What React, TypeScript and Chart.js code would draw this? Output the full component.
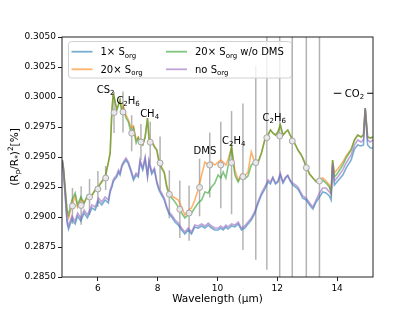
import { useEffect, useRef } from 'react';
import { Chart, registerables } from 'chart.js';

Chart.register(...registerables);

const FAMILY = '"DejaVu Sans", sans-serif';

const wavelength = [
  4.81, 4.85, 4.97, 5.02, 5.13, 5.24, 5.32, 5.43, 5.54, 5.65,
  5.80, 5.91, 6.02, 6.13, 6.24, 6.35, 6.41, 6.47, 6.51, 6.55,
  6.63, 6.69, 6.74, 6.80, 6.85, 6.94, 7.02, 7.11, 7.19, 7.28,
  7.35, 7.41, 7.50, 7.58, 7.66, 7.71, 7.80, 7.89, 7.97, 8.04,
  8.13, 8.22, 8.30, 8.38, 8.47, 8.58, 8.69, 8.80, 8.91, 9.02,
  9.13, 9.24, 9.35, 9.47, 9.58, 9.69, 9.80, 9.91, 10.02, 10.11,
  10.19, 10.28, 10.35, 10.47, 10.58, 10.69, 10.80, 10.91, 11.02, 11.13,
  11.24, 11.35, 11.47, 11.58, 11.69, 11.77, 11.85, 11.94, 12.02, 12.10,
  12.19, 12.28, 12.35, 12.43, 12.52, 12.61, 12.69, 12.78, 12.85, 12.97,
  13.08, 13.19, 13.30, 13.41, 13.52, 13.63, 13.74, 13.80, 13.85, 13.91,
  14.02, 14.19, 14.30, 14.47, 14.58, 14.69, 14.80, 14.88, 14.94, 15.02,
  15.11, 15.19,
];

// 1x S_org (blue)
const sorg1x = [
  0.29458, 0.29375, 0.2895, 0.289, 0.28983, 0.28942, 0.29008, 0.28967, 0.29033, 0.28992,
  0.29075, 0.29058, 0.29133, 0.291, 0.29142, 0.29117, 0.29208, 0.2925, 0.29292, 0.29308,
  0.29333, 0.29375, 0.2935, 0.29417, 0.29442, 0.29475, 0.29442, 0.29375, 0.29308, 0.2935,
  0.29333, 0.29458, 0.29392, 0.29483, 0.29333, 0.29458, 0.29358, 0.29392, 0.29283, 0.29225,
  0.29183, 0.29142, 0.29075, 0.29025, 0.29, 0.28958, 0.28933, 0.28892, 0.28858, 0.28892,
  0.28858, 0.28917, 0.28908, 0.28925, 0.28908, 0.28933, 0.28908, 0.28892, 0.28892, 0.28908,
  0.28892, 0.28917, 0.289, 0.28925, 0.28917, 0.28942, 0.28892, 0.28908, 0.28942, 0.28975,
  0.29025, 0.29108, 0.29183, 0.29233, 0.29292, 0.29275, 0.29325, 0.29275, 0.29292, 0.2935,
  0.29283, 0.29325, 0.29342, 0.293, 0.29267, 0.2925, 0.29233, 0.29192, 0.29158, 0.29142,
  0.291, 0.29067, 0.29125, 0.29167, 0.29208, 0.292, 0.29175, 0.29142, 0.29425, 0.29267,
  0.293, 0.2935, 0.29408, 0.29475, 0.29567, 0.296, 0.29592, 0.296, 0.29892, 0.296,
  0.29575, 0.29575,
];

// 20x S_org (orange)
const sorg20x = [
  0.29475, 0.29408, 0.29033, 0.28992, 0.291, 0.29175, 0.29083, 0.2915, 0.29117, 0.29167,
  0.29175, 0.29225, 0.29258, 0.293, 0.29333, 0.2945, 0.29533, 0.29892, 0.30017, 0.29992,
  0.29892, 0.29942, 0.29975, 0.29892, 0.29925, 0.2985, 0.29808, 0.29742, 0.29758, 0.29642,
  0.29667, 0.29625, 0.296, 0.29667, 0.29825, 0.29658, 0.29633, 0.29592, 0.29558, 0.29475,
  0.29417, 0.29375, 0.29267, 0.29208, 0.29175, 0.29158, 0.29142, 0.29083, 0.29017, 0.29058,
  0.29075, 0.29142, 0.29225, 0.2935, 0.29458, 0.29433, 0.29458, 0.29433, 0.29458, 0.29475,
  0.29458, 0.29433, 0.29475, 0.29583, 0.29392, 0.29308, 0.29358, 0.29342, 0.29375, 0.29542,
  0.29458, 0.2945, 0.29533, 0.29642, 0.29683, 0.29725, 0.297, 0.29683, 0.29708, 0.29767,
  0.29683, 0.29708, 0.29725, 0.29683, 0.29642, 0.296, 0.29558, 0.29525, 0.29492, 0.29417,
  0.29358, 0.29325, 0.293, 0.29317, 0.29325, 0.293, 0.29267, 0.29208, 0.29475, 0.29367,
  0.294, 0.29458, 0.29508, 0.29567, 0.29642, 0.29683, 0.29667, 0.29683, 0.29908, 0.29667,
  0.29658, 0.29667,
];

// 20x S_org w/o DMS (green)
const sorg20xNoDms = [
  0.29475, 0.29408, 0.29058, 0.29017, 0.29142, 0.292, 0.291, 0.29167, 0.29117, 0.29183,
  0.29183, 0.29225, 0.2925, 0.29292, 0.29325, 0.29458, 0.29533, 0.29892, 0.30017, 0.29992,
  0.29892, 0.29933, 0.29975, 0.29875, 0.29908, 0.29825, 0.29792, 0.297, 0.29742, 0.29617,
  0.29658, 0.29617, 0.296, 0.29667, 0.29825, 0.29642, 0.29625, 0.29583, 0.29558, 0.29458,
  0.29408, 0.29367, 0.2925, 0.29183, 0.29158, 0.29125, 0.29083, 0.29033, 0.28992, 0.29017,
  0.29033, 0.29075, 0.29117, 0.29142, 0.29208, 0.292, 0.2925, 0.29283, 0.2935, 0.29325,
  0.29375, 0.29325, 0.29417, 0.29583, 0.2935, 0.29292, 0.29342, 0.29317, 0.29342, 0.29433,
  0.29458, 0.2945, 0.29533, 0.29642, 0.29683, 0.29725, 0.297, 0.29683, 0.29708, 0.29767,
  0.29683, 0.29708, 0.29725, 0.29683, 0.29642, 0.296, 0.29558, 0.29525, 0.29492, 0.29417,
  0.29358, 0.29325, 0.29292, 0.29308, 0.29308, 0.29283, 0.2925, 0.292, 0.29475, 0.29333,
  0.29367, 0.29433, 0.29492, 0.29558, 0.29642, 0.29683, 0.29667, 0.29683, 0.29908, 0.29667,
  0.29658, 0.29667,
];

// no S_org (purple)
const sorgNone = [
  0.29475, 0.29392, 0.28975, 0.28925, 0.29008, 0.28967, 0.29033, 0.28992, 0.29058, 0.29017,
  0.291, 0.29083, 0.29158, 0.29125, 0.29167, 0.29142, 0.29225, 0.29267, 0.29308, 0.29325,
  0.2935, 0.29392, 0.29367, 0.29433, 0.29458, 0.29492, 0.29458, 0.29392, 0.29325, 0.29367,
  0.2935, 0.29475, 0.29408, 0.295, 0.2935, 0.29475, 0.29375, 0.29408, 0.293, 0.29242,
  0.292, 0.29158, 0.29092, 0.29042, 0.29017, 0.28975, 0.2895, 0.28908, 0.28875, 0.28908,
  0.28875, 0.28933, 0.28925, 0.28942, 0.28925, 0.2895, 0.28925, 0.28908, 0.28908, 0.28925,
  0.28908, 0.28933, 0.28917, 0.28942, 0.28933, 0.28958, 0.28908, 0.28925, 0.28958, 0.28992,
  0.29042, 0.29125, 0.292, 0.2925, 0.29308, 0.29292, 0.29333, 0.29283, 0.293, 0.29367,
  0.29292, 0.29333, 0.2935, 0.29308, 0.29283, 0.29267, 0.2925, 0.29208, 0.29175, 0.29158,
  0.29117, 0.29083, 0.29142, 0.292, 0.29242, 0.29242, 0.29208, 0.29192, 0.2945, 0.293,
  0.29333, 0.29392, 0.2945, 0.29517, 0.296, 0.29642, 0.29625, 0.29642, 0.29908, 0.29642,
  0.29625, 0.29642,
];

const obsWavelength = [5.15, 5.44, 5.72, 6.0, 6.26, 6.54, 6.84, 7.13, 7.44, 7.75, 8.08, 8.39, 8.74, 9.05, 9.4, 9.74, 10.11, 10.47, 10.85, 11.28, 11.65, 12.08, 12.5, 12.97, 13.41];
const obsDepth = [0.29092, 0.29096, 0.29167, 0.29233, 0.29325, 0.29871, 0.29875, 0.29698, 0.29625, 0.29623, 0.2945, 0.29189, 0.29064, 0.29033, 0.29246, 0.29433, 0.29433, 0.29453, 0.29336, 0.29453, 0.29661, 0.29675, 0.29633, 0.29411, 0.293];
const obsError = [0.0015, 0.0016, 0.0015, 0.0015, 0.001, 0.0017, 0.0017, 0.0015, 0.0015, 0.0017, 0.0022, 0.002, 0.0024, 0.0023, 0.0024, 0.0027, 0.0036, 0.0043, 0.0061, 0.0081, 0.011, 0.014, 0.015, 0.017, 0.019];

const xTicks = [6, 8, 10, 12, 14];
const yTicks = [0.285, 0.2875, 0.29, 0.2925, 0.295, 0.2975, 0.3, 0.3025, 0.305];

type Part = [string, number]; // 0 normal, 1 subscript, 2 superscript

const seriesLabels: Part[][] = [
  [['1× S', 0], ['org', 1]],
  [['20× S', 0], ['org', 1]],
  [['20× S', 0], ['org', 1], [' w/o DMS', 0]],
  [['no S', 0], ['org', 1]],
];
const seriesColors = ['rgba(31,119,180,0.6)', 'rgba(255,127,14,0.6)', 'rgba(44,160,44,0.6)', 'rgba(148,103,189,0.6)'];

const annoText: Part[][] = [
  [['CS', 0], ['2', 1]],
  [['C', 0], ['2', 1], ['H', 0], ['6', 1]],
  [['CH', 0], ['4', 1]],
  [['DMS', 0]],
  [['C', 0], ['2', 1], ['H', 0], ['4', 1]],
  [['C', 0], ['2', 1], ['H', 0], ['6', 1]],
];
const annoX = [6.26, 7.01, 7.73, 9.58, 10.54, 11.9];
const annoY = [0.30067, 0.29975, 0.29864, 0.29558, 0.29638, 0.29831];
const co2Text: Part[] = [['CO', 0], ['2', 1]];
const co2Band = [13.89, 15.2];
const co2Y = 0.30031;
const co2LabelX = 14.58;

function drawRich(ctx: CanvasRenderingContext2D, parts: Part[], x: number, y: number, size: number, align: 'left' | 'center') {
  let total = 0;
  const widths = parts.map(([t, m]) => {
    ctx.font = `${m ? size * 0.7 : size}px ${FAMILY}`;
    const w = ctx.measureText(t).width;
    total += w;
    return w;
  });
  let cx = align === 'center' ? x - total / 2 : x;
  const base = y + size * 0.36;
  ctx.textAlign = 'left';
  ctx.textBaseline = 'alphabetic';
  parts.forEach(([t, m], i) => {
    ctx.font = `${m ? size * 0.7 : size}px ${FAMILY}`;
    const dy = m === 1 ? size * 0.24 : m === 2 ? -size * 0.42 : 0;
    ctx.fillText(t, cx, base + dy);
    cx += widths[i];
  });
  return total;
}

const decorPlugin = {
  id: 'decor',
  beforeDatasetsDraw(chart: any) {
    const { ctx, chartArea, scales } = chart;
    const xs = scales.x, ys = scales.y;
    ctx.save();
    ctx.beginPath();
    ctx.rect(chartArea.left, chartArea.top, chartArea.right - chartArea.left, chartArea.bottom - chartArea.top);
    ctx.clip();
    ctx.strokeStyle = 'rgba(160,160,160,0.8)';
    ctx.lineWidth = 1.5;
    obsWavelength.forEach((w, i) => {
      const px = xs.getPixelForValue(w);
      ctx.beginPath();
      ctx.moveTo(px, ys.getPixelForValue(obsDepth[i] - obsError[i]));
      ctx.lineTo(px, ys.getPixelForValue(obsDepth[i] + obsError[i]));
      ctx.stroke();
    });
    ctx.restore();
  },
  afterDatasetsDraw(chart: any) {
    const { ctx, chartArea, scales } = chart;
    const xs = scales.x, ys = scales.y;
    const L = chartArea.left, T = chartArea.top, R = chartArea.right, B = chartArea.bottom;
    ctx.save();
    // frame
    ctx.strokeStyle = '#222';
    ctx.lineWidth = 1;
    ctx.strokeRect(L, T, R - L, B - T);

    // annotations
    ctx.fillStyle = '#000';
    annoText.forEach((parts, i) => {
      drawRich(ctx, parts, xs.getPixelForValue(annoX[i]), ys.getPixelForValue(annoY[i]), 10, 'center');
    });
    // CO2 band
    const cy = ys.getPixelForValue(co2Y);
    ctx.strokeStyle = '#000';
    ctx.lineWidth = 1;
    ctx.beginPath();
    ctx.moveTo(xs.getPixelForValue(co2Band[0]), cy);
    ctx.lineTo(Math.min(R, xs.getPixelForValue(co2Band[1])), cy);
    ctx.stroke();
    ctx.font = `10px ${FAMILY}`;
    const w1 = ctx.measureText('CO').width;
    ctx.font = `7px ${FAMILY}`;
    const w2 = ctx.measureText('2').width;
    const tw = w1 + w2;
    const tx = xs.getPixelForValue(co2LabelX);
    ctx.fillStyle = '#fff';
    ctx.fillRect(tx - tw / 2 - 3.5, cy - 6, tw + 6.5, 12);
    ctx.fillStyle = '#000';
    drawRich(ctx, co2Text, tx, cy, 10, 'center');

    // legend
    const bx = L + 6.5, by = T + 4.5, bw = 223, bh = 36.5, r = 3;
    ctx.beginPath();
    ctx.moveTo(bx + r, by);
    ctx.lineTo(bx + bw - r, by);
    ctx.arcTo(bx + bw, by, bx + bw, by + r, r);
    ctx.lineTo(bx + bw, by + bh - r);
    ctx.arcTo(bx + bw, by + bh, bx + bw - r, by + bh, r);
    ctx.lineTo(bx + r, by + bh);
    ctx.arcTo(bx, by + bh, bx, by + bh - r, r);
    ctx.lineTo(bx, by + r);
    ctx.arcTo(bx, by, bx + r, by, r);
    ctx.closePath();
    ctx.fillStyle = 'rgba(255,255,255,0.8)';
    ctx.fill();
    ctx.strokeStyle = '#d0d0d0';
    ctx.lineWidth = 1;
    ctx.stroke();
    seriesLabels.forEach((parts, i) => {
      const col = Math.floor(i / 2), row = i % 2;
      const hx = bx + 3 + col * 94.5;
      const hy = by + 10.2 + row * 17.6;
      ctx.strokeStyle = seriesColors[i];
      ctx.lineWidth = 1.8;
      ctx.beginPath();
      ctx.moveTo(hx, hy);
      ctx.lineTo(hx + 21, hy);
      ctx.stroke();
      ctx.fillStyle = '#000';
      drawRich(ctx, parts, hx + 29, hy, 10, 'left');
    });
    ctx.restore();
  },
  afterDraw(chart: any) {
    const { ctx, chartArea } = chart;
    ctx.save();
    ctx.fillStyle = '#000';
    drawRich(ctx, [['Wavelength (μm)', 0]], (chartArea.left + chartArea.right) / 2, 298.5, 10.5, 'center');
    ctx.translate(14, (chartArea.top + chartArea.bottom) / 2);
    ctx.rotate(-Math.PI / 2);
    drawRich(ctx, [['(R', 0], ['p', 1], ['/R', 0], ['*', 1], [')', 0], ['2', 2], ['[%]', 0]], 0, 0, 10.5, 'center');
    ctx.restore();
  },
};

export default function App() {
  const ref = useRef<HTMLCanvasElement | null>(null);
  useEffect(() => {
    if (!ref.current) return;
    const mk = (vals: number[]) => wavelength.map((x, i) => ({ x, y: vals[i] }));
    const lineDs = (vals: number[], color: string, order: number) => ({
      type: 'line' as const,
      data: mk(vals),
      borderColor: color,
      borderWidth: 1.6,
      pointRadius: 0,
      tension: 0,
      fill: false,
      order,
    });
    const axisCommon = {
      ticks: { color: '#000', font: { size: 9, family: FAMILY }, padding: 2, autoSkip: false, maxRotation: 0 },
      grid: { display: true, drawOnChartArea: false, drawTicks: true, tickLength: 4, color: '#222', lineWidth: 1 },
      border: { display: false },
    };
    const chart = new Chart(ref.current, {
      type: 'line',
      data: {
        datasets: [
          lineDs(sorg1x, seriesColors[0], 5),
          lineDs(sorg20x, seriesColors[1], 4),
          lineDs(sorg20xNoDms, seriesColors[2], 3),
          lineDs(sorgNone, seriesColors[3], 2),
          {
            type: 'line' as const,
            data: obsWavelength.map((x, i) => ({ x, y: obsDepth[i] })),
            showLine: false,
            pointRadius: 3,
            pointBackgroundColor: 'rgba(232,232,232,1)',
            pointBorderColor: 'rgba(165,165,165,1)',
            pointBorderWidth: 1,
            order: 1,
          } as any,
        ],
      },
      options: {
        responsive: false,
        animation: false,
        events: [],
        layout: { padding: { left: 0, right: 42, top: 37, bottom: 0 } },
        plugins: { legend: { display: false }, tooltip: { enabled: false } },
        scales: {
          x: {
            type: 'linear',
            min: 4.8,
            max: 15.2,
            afterBuildTicks: (a: any) => { a.ticks = xTicks.map((value) => ({ value })); },
            afterFit: (a: any) => { a.height = 34; },
            ...axisCommon,
            ticks: { ...axisCommon.ticks, callback: (v: any) => String(v) },
          },
          y: {
            type: 'linear',
            min: 0.285,
            max: 0.305,
            afterBuildTicks: (a: any) => { a.ticks = yTicks.map((value) => ({ value })); },
            afterFit: (a: any) => { a.width = 62; },
            ...axisCommon,
            ticks: { ...axisCommon.ticks, callback: (v: any) => Number(v).toFixed(4) },
          },
        },
      } as any,
      plugins: [decorPlugin],
    });
    return () => chart.destroy();
  }, []);
  return (
    <div style={{ position: 'absolute', left: 0, top: 0, width: 415, height: 311, background: '#fff' }}>
      <canvas ref={ref} width={415} height={311} style={{ display: 'block' }} />
    </div>
  );
}
